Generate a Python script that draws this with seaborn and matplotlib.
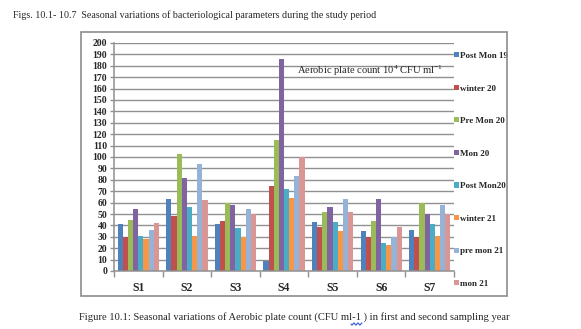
import numpy as np
import pandas as pd
import matplotlib
matplotlib.use("Agg")
import matplotlib.pyplot as plt
import seaborn as sns
from matplotlib.patches import Rectangle, Patch

# Aerobic plate count (10^4 CFU/ml) per sampling site and season
sites = ["S1", "S2", "S3", "S4", "S5", "S6", "S7"]
seasons = ["Post Mon 19", "winter 20", "Pre Mon 20", "Mon 20",
           "Post Mon20", "winter 21", "pre mon 21", "mon 21"]
post_mon_19 = [41, 63, 41, 9, 43, 35, 36]
winter_20 = [30, 48, 44, 75, 39, 30, 30]
pre_mon_20 = [45, 103, 60, 115, 52, 44, 60]
mon_20 = [54, 82, 58, 186, 56, 63, 50]
post_mon_20 = [31, 56, 38, 72, 43, 25, 41]
winter_21 = [28, 31, 30, 64, 35, 23, 31]
pre_mon_21 = [36, 94, 54, 83, 63, 30, 58]
mon_21 = [42, 62, 50, 100, 52, 39, 50]
yticks = list(range(0, 201, 10))

colors = ["#4F81BD", "#C0504D", "#9BBB59", "#8064A2",
          "#4BACC6", "#F79646", "#95B3D7", "#D99694"]

series = [post_mon_19, winter_20, pre_mon_20, mon_20,
          post_mon_20, winter_21, pre_mon_21, mon_21]
rows = []
for season, vals in zip(seasons, series):
    for site, v in zip(sites, vals):
        rows.append({"site": site, "season": season, "count": v})
df = pd.DataFrame(rows)

sns.set_style("white")
plt.rcParams["font.family"] = ["Liberation Serif", "DejaVu Serif"]
plt.rcParams["mathtext.fontset"] = "custom"
plt.rcParams["mathtext.rm"] = "Liberation Serif"
plt.rcParams["mathtext.it"] = "Liberation Serif:italic"

W, H = 581, 329
fig = plt.figure(figsize=(W / 100, H / 100), dpi=100)
fig.patch.set_facecolor("white")

# chart frame
fig.add_artist(Rectangle((81 / W, 1 - 296 / H), 426 / W, 264 / H,
                         transform=fig.transFigure, fill=False,
                         ec="#8c8c8c", lw=1.2))

ax = fig.add_axes([114 / W, 1 - 271 / H, 340 / W, 228 / H])
sns.barplot(data=df, x="site", y="count", hue="season", hue_order=seasons,
            palette=colors, width=0.85, saturation=1, legend=False,
            errorbar=None, linewidth=0, ax=ax)

grid_c = "#909090"
ax.set_ylim(0, 200)
ax.set_xlim(-0.5, 6.5)
ax.set_yticks(yticks)
ax.set_yticklabels([str(t) for t in yticks], fontsize=7, fontweight="bold")
ax.yaxis.grid(True, color=grid_c, lw=1.0)
ax.xaxis.grid(False)
ax.set_axisbelow(True)
for s in ["top", "right"]:
    ax.spines[s].set_visible(False)
for s in ["left", "bottom"]:
    ax.spines[s].set_color(grid_c)
    ax.spines[s].set_linewidth(1.1)
ax.tick_params(axis="y", length=3, color=grid_c, width=1, pad=2, left=True)
ax.set_xticks(range(len(sites)))
ax.set_xticklabels(sites, fontsize=8.5, fontweight="bold")
ax.tick_params(axis="x", which="major", length=0, pad=8)
ax.set_xticks(np.arange(-0.5, len(sites), 1.0), minor=True)
ax.tick_params(axis="x", which="minor", length=4, color=grid_c, width=1,
               bottom=True)
ax.set_xlabel("")
ax.set_ylabel("")

ax.text(3.27, 176, "Aerobic plate count 10$^{4}$ CFU ml$^{-1}$",
        fontsize=7.6, va="center", ha="left")

handles = [Patch(facecolor=c, edgecolor="none") for c in colors]
ax.legend(handles, seasons, loc="upper left",
          bbox_to_anchor=(454 / W, 1 - 52 / H), bbox_transform=fig.transFigure,
          frameon=False, handlelength=0.5, handleheight=0.5,
          handletextpad=0.15, labelspacing=2.72,
          prop={"weight": "bold", "size": 6.5}, borderpad=0, borderaxespad=0)

fig.text(13 / W, 1 - 15 / H,
         "Figs. 10.1- 10.7  Seasonal variations of bacteriological parameters during the study period",
         fontsize=7.2, va="center", ha="left")
fig.text(79 / W, 1 - 317 / H,
         "Figure 10.1: Seasonal variations of Aerobic plate count (CFU ml-1 ) in first and second sampling year",
         fontsize=7.6, va="center", ha="left")

# spell-check squiggle under the unit
xs = np.linspace(351, 362, 40)
ys = 324 + 1.0 * np.sin((xs - 351) * 1.6)
fig.add_artist(plt.Line2D(xs / W, 1 - ys / H, transform=fig.transFigure,
                          color="#3355dd", lw=0.8))

fig.savefig("out.png", dpi=100)
